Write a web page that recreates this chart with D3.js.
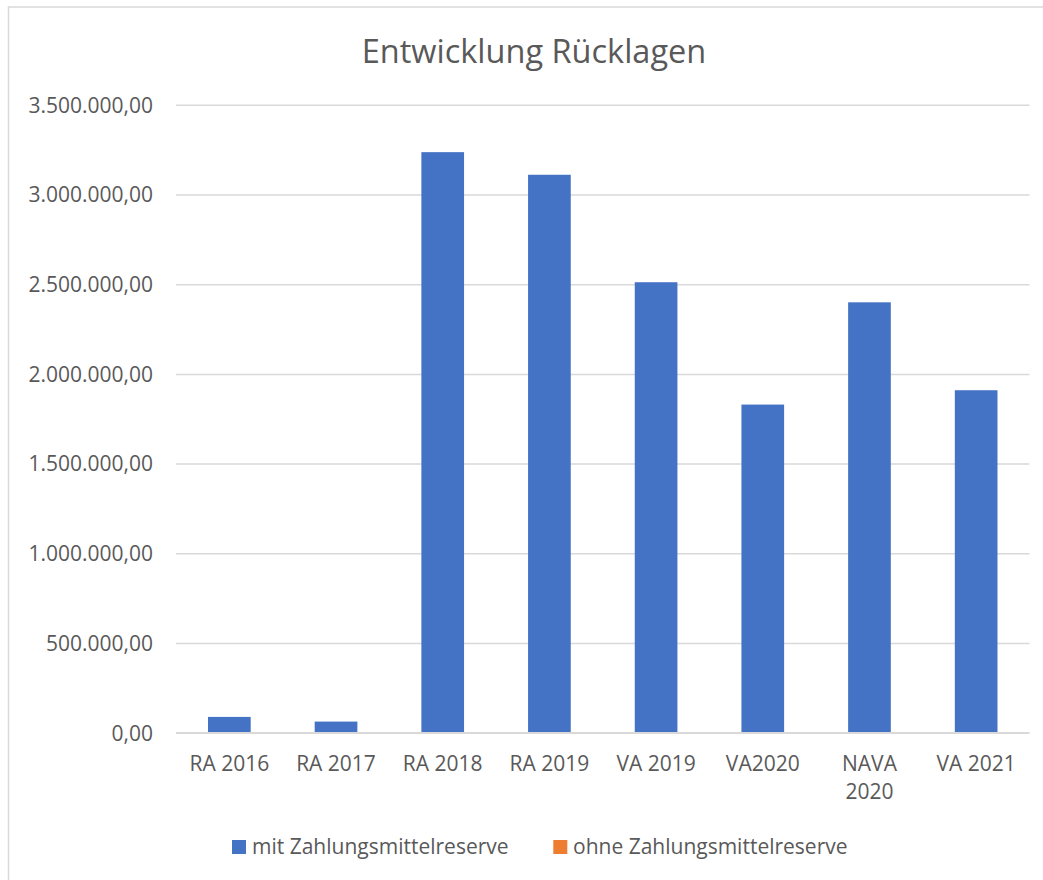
<!DOCTYPE html>
<html>
<head>
<meta charset="utf-8">
<script src="https://cdn.jsdelivr.net/npm/d3@7"></script>
<style>
  html, body { margin: 0; padding: 0; background: #ffffff; }
  svg { display: block; }
</style>
</head>
<body>
<svg id="chart" width="1043" height="880"></svg>
<script>
const categories = ["RA 2016", "RA 2017", "RA 2018", "RA 2019", "VA 2019", "VA2020", "NAVA 2020", "VA 2021"];
const mitValues = [88000, 62000, 3236000, 3110000, 2511000, 1829000, 2399000, 1909000];
const ohneValues = [0, 0, 0, 0, 0, 0, 0, 0];
const seriesNames = ["mit Zahlungsmittelreserve", "ohne Zahlungsmittelreserve"];
const seriesColors = ["#4472C4", "#ED7D31"];
const yTicks = [0, 500000, 1000000, 1500000, 2000000, 2500000, 3000000, 3500000];
const chartTitle = "Entwicklung Rücklagen";

const W = 1043, H = 880;
const plot = { left: 176, right: 1029.5, top: 104.8, bottom: 732.7 };
const FONT = "'Open Sans', 'Noto Sans', sans-serif";
const TEXT = "#595959";

const svg = d3.select("#chart");

// outer chart border
svg.append("rect")
  .attr("x", 8.5).attr("y", 7).attr("width", W + 20).attr("height", H + 20)
  .attr("fill", "#ffffff").attr("stroke", "#d9d9d9").attr("stroke-width", 1.5);

const de = d3.formatLocale({ decimal: ",", thousands: ".", grouping: [3], currency: ["", " €"] });
const fmt = de.format(",.2f");

const x = d3.scaleBand().domain(categories).range([plot.left, plot.right])
  .paddingInner(0.6).paddingOuter(0.3);
const y = d3.scaleLinear().domain([0, 3500000]).range([plot.bottom, plot.top]);

// title
svg.append("text")
  .attr("x", 534).attr("y", 63)
  .attr("text-anchor", "middle")
  .attr("font-family", FONT).attr("font-size", 32.5).attr("fill", TEXT)
  .text(chartTitle);

// gridlines
const yAxis = d3.axisLeft(y).tickValues(yTicks).tickFormat(fmt)
  .tickSize(-(plot.right - plot.left)).tickPadding(23);
const gy = svg.append("g").attr("transform", `translate(${plot.left},0)`).call(yAxis);
gy.select(".domain").remove();
gy.selectAll(".tick line").attr("stroke", "#d9d9d9").attr("stroke-width", 1.5);
gy.selectAll(".tick text")
  .attr("font-family", FONT).attr("font-size", 21).attr("fill", TEXT)
  .attr("dy", "0.35em");

// bars
const data = categories.map((c, i) => ({ c, mit: mitValues[i], ohne: ohneValues[i] }));
svg.append("g").selectAll("rect.mit").data(data).join("rect")
  .attr("class", "mit")
  .attr("x", d => x(d.c)).attr("width", x.bandwidth())
  .attr("y", d => y(d.mit)).attr("height", d => y(0) - y(d.mit))
  .attr("fill", seriesColors[0]);
svg.append("g").selectAll("rect.ohne").data(data).join("rect")
  .attr("class", "ohne")
  .attr("x", d => x(d.c)).attr("width", x.bandwidth())
  .attr("y", d => y(d.ohne)).attr("height", d => y(0) - y(d.ohne))
  .attr("fill", seriesColors[1]);

// baseline
svg.append("line")
  .attr("x1", plot.left).attr("x2", plot.right)
  .attr("y1", y(0)).attr("y2", y(0))
  .attr("stroke", "#d9d9d9").attr("stroke-width", 1.5);

// x labels with wrapping
const xl = svg.append("g");
categories.forEach(c => {
  const cx = x(c) + x.bandwidth() / 2;
  const t = xl.append("text")
    .attr("x", cx).attr("y", 771)
    .attr("text-anchor", "middle")
    .attr("font-family", FONT).attr("font-size", 21).attr("fill", TEXT)
    .text(c);
  if (t.node().getComputedTextLength() > x.step() * 0.88) {
    const words = c.split(" ");
    t.text(null);
    words.forEach((w, i) => {
      t.append("tspan").attr("x", cx).attr("dy", i === 0 ? 0 : 28).text(w);
    });
  }
});

// legend
const legendPos = [{ sx: 232, tx: 252 }, { sx: 553.3, tx: 573 }];
const lg = svg.append("g");
seriesNames.forEach((name, i) => {
  lg.append("rect")
    .attr("x", legendPos[i].sx).attr("y", 840).attr("width", 14).attr("height", 14)
    .attr("fill", seriesColors[i]);
  lg.append("text")
    .attr("x", legendPos[i].tx).attr("y", 854)
    .attr("font-family", FONT).attr("font-size", 21).attr("fill", TEXT)
    .text(name);
});
</script>
</body>
</html>
